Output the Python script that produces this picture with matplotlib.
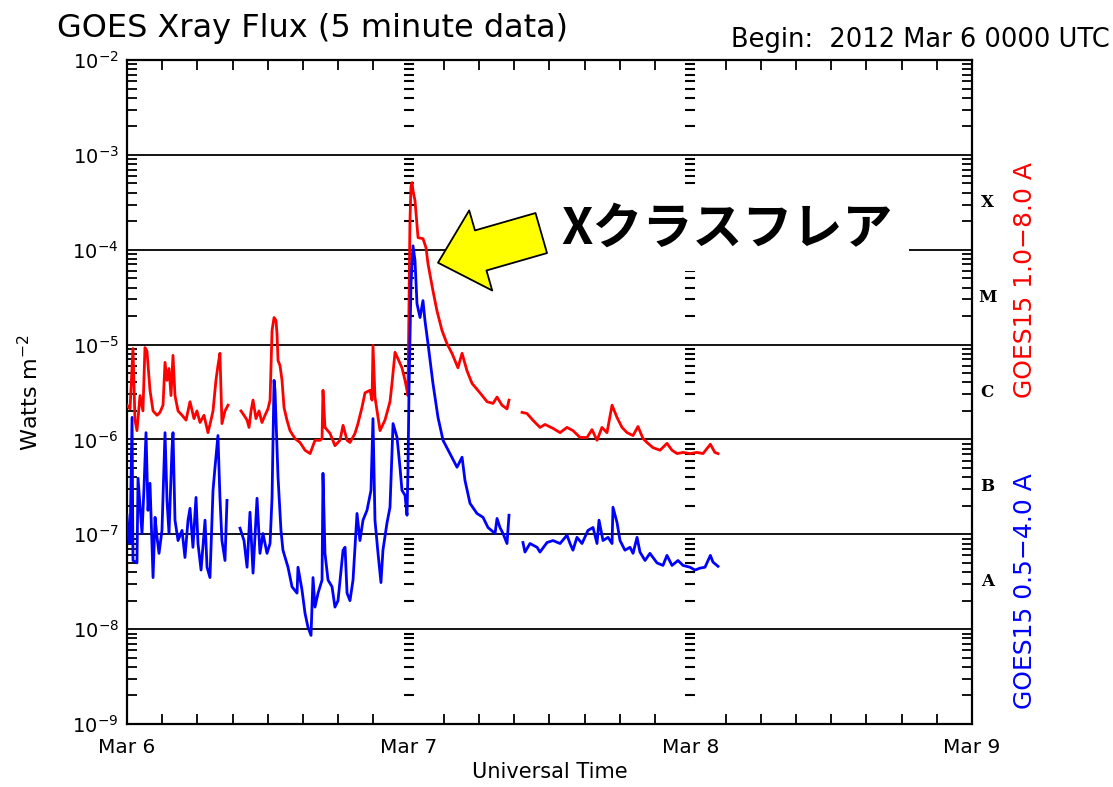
import numpy as np
import matplotlib
matplotlib.use("Agg")
import matplotlib.pyplot as plt
from matplotlib.ticker import FixedLocator, NullFormatter
import matplotlib.transforms as mtransforms

plt.rcParams['font.family'] = ['DejaVu Sans', 'Noto Sans CJK JP']

nan = np.nan

# hours since 2012 Mar 6 00:00 UTC, flux in W m^-2 (nan = data gap)
red_hours = [0.00, 0.26, 0.51, 0.68, 0.85, 1.11, 1.36, 1.53, 1.70, 1.96, 2.22, 2.56, 2.81,
             3.07, 3.24, 3.41, 3.58, 3.75, 3.92, 4.09, 4.35, 4.69, 5.03, 5.37, 5.71, 5.96,
             6.22, 6.56, 6.90, 7.16, 7.33, 7.58, 7.75, 7.92, 8.09, 8.35, 8.61, nan,
             9.71, 9.97, 10.23, 10.40, 10.57, 10.74, 10.99, 11.25, 11.50, 11.76, 12.01,
             12.19, 12.36, 12.53, 12.70, 12.78, 12.87, 13.04, 13.21, 13.38, 13.63, 13.89,
             14.32, 14.74, 15.17, 15.60, 16.02, 16.45, 16.62, 16.70, 16.87, 17.30, 17.72,
             18.15, 18.41, 18.75, 19.00, 19.43, 19.68, 20.02, 20.28, 20.71, 20.88, 20.96,
             21.13, 21.56, 21.98, 22.41, 22.58, 22.84, 23.09, 23.43, 23.69, 23.86, 23.94,
             24.03, 24.11, 24.20, 24.29, 24.37, 24.54, 24.80, 25.22, 25.48, 25.65, 26.07,
             26.41, 26.84, 27.27, 27.69, 28.20, 28.55, 28.97, 29.40, 30.08, 30.68, 31.19,
             31.53, 31.95, 32.38, 32.55, nan,
             33.66, 34.08, 34.60, 35.19, 35.62, 36.30, 36.90, 37.49, 38.00, 38.60, 39.20,
             39.62, 40.05, 40.47, 40.90, 41.33, 41.75, 42.18, 42.61, 43.12, 43.54, 43.97,
             44.39, 44.82, 45.42, 46.01, 46.44, 46.87, 47.38, 47.97, 48.57, 49.08, 49.71,
             50.09, 50.36]
red_flux = [2.3e-6, 2.1e-6, 9.1e-6, 1.6e-6, 1.24e-6, 2.9e-6, 2.0e-6, 9.3e-6, 8.6e-6, 3.3e-6,
            2.0e-6, 1.8e-6, 1.93e-6, 2.3e-6, 6.5e-6, 4.2e-6, 5.6e-6, 2.9e-6, 7.7e-6, 2.9e-6,
            2.0e-6, 1.8e-6, 1.6e-6, 2.5e-6, 1.66e-6, 2.0e-6, 1.51e-6, 1.8e-6, 1.18e-6, 1.6e-6,
            2.0e-6, 4.2e-6, 6.0e-6, 8.1e-6, 1.47e-6, 2.0e-6, 2.3e-6, nan,
            2.0e-6, 1.8e-6, 1.6e-6, 1.34e-6, 2.0e-6, 2.6e-6, 1.66e-6, 2.0e-6, 1.51e-6, 1.8e-6,
            2.1e-6, 2.6e-6, 1.41e-5, 1.93e-5, 1.79e-5, 1.31e-5, 6.8e-6, 6.0e-6, 4.2e-6, 2.17e-6,
            1.6e-6, 1.24e-6, 1.02e-6, 9.3e-7, 7.7e-7, 7.1e-7, 9.8e-7, 9.8e-7, 1.02e-6, 3.3e-6,
            1.34e-6, 1.16e-6, 8.6e-7, 9.8e-7, 1.41e-6, 9.8e-7, 9.3e-7, 1.16e-6, 1.47e-6, 2.17e-6,
            3.1e-6, 3.3e-6, 2.6e-6, 9.8e-6, 2.8e-6, 1.24e-6, 1.6e-6, 2.5e-6, 3.9e-6, 8.3e-6,
            7.1e-6, 5.7e-6, 4.2e-6, 3.3e-6, 2.9e-6,
            2.9e-5, 2.0e-4, 4.7e-4, 5.1e-4, 4.2e-4, 3.3e-4, 1.34e-4, 1.31e-4, 1.05e-4, 7.1e-5,
            3.7e-5, 2.28e-5, 1.41e-5, 1.02e-5, 8.1e-6, 5.7e-6, 8.1e-6, 5.3e-6, 3.9e-6, 3.1e-6,
            2.5e-6, 2.4e-6, 2.8e-6, 2.3e-6, 2.1e-6, 2.6e-6, nan,
            1.93e-6, 1.88e-6, 1.59e-6, 1.34e-6, 1.44e-6, 1.31e-6, 1.18e-6, 1.34e-6, 1.24e-6,
            1.05e-6, 1.05e-6, 1.27e-6, 9.8e-7, 1.34e-6, 1.18e-6, 2.3e-6, 1.71e-6, 1.34e-6,
            1.18e-6, 1.10e-6, 1.37e-6, 1.02e-6, 9.1e-7, 8.2e-7, 7.7e-7, 9.1e-7, 7.7e-7, 7.1e-7,
            7.3e-7, 7.1e-7, 7.3e-7, 7.1e-7, 8.9e-7, 7.3e-7, 7.1e-7]

blue_hours = [0.00, 0.17, 0.26, 0.43, 0.51, 0.85, 0.94, 1.28, 1.45, 1.62, 1.79, 1.96, 2.13,
              2.22, 2.39, 2.56, 2.73, 2.98, 3.24, 3.41, 3.58, 3.83, 3.92, 4.09, 4.35, 4.69,
              4.94, 5.20, 5.37, 5.62, 5.88, 6.05, 6.31, 6.65, 6.82, 7.07, 7.33, 7.50, 7.75,
              7.92, 8.09, 8.35, 8.52, nan,
              9.63, 9.97, 10.23, 10.48, 10.74, 11.08, 11.33, 11.59, 11.93, 12.19, 12.36,
              12.53, 12.61, 12.87, 13.12, 13.29, 13.72, 14.06, 14.49, 14.57, 14.91, 15.17,
              15.42, 15.68, 15.85, 16.02, 16.28, 16.62, 16.70, 16.87, 17.13, 17.47, 17.72,
              17.98, 18.41, 18.58, 18.75, 19.00, 19.26, 19.60, 19.85, 20.11, 20.45, 20.79,
              20.96, 21.13, 21.39, 21.64, 21.81, 22.15, 22.41, 22.67, 23.01, 23.26, 23.43,
              23.69, 23.86, 23.94, 24.03, 24.20, 24.37, 24.54, 24.71, 24.97, 25.22, 25.39,
              25.65, 26.07, 26.50, 26.93, 27.52, 28.12, 28.55, 28.80, 29.23, 29.82, 30.34,
              30.76, 31.36, 31.53, 31.78, 32.04, 32.38, 32.55, nan,
              33.74, 33.91, 34.34, 34.94, 35.19, 35.79, 36.30, 36.90, 37.49, 37.75, 38.00,
              38.34, 38.77, 39.28, 39.71, 40.05, 40.22, 40.56, 40.99, 41.33, 41.41, 41.75,
              42.01, 42.43, 42.86, 43.12, 43.46, 43.71, 44.14, 44.56, 45.16, 45.67, 46.01,
              46.44, 46.95, 47.38, 47.97, 48.40, 48.82, 49.25, 49.71, 49.93, 50.36]
blue_flux = [1.59e-7, 8.6e-8, 8.0e-8, 1.71e-6, 5.3e-8, 5.0e-8, 3.9e-7, 1.02e-7, 3.1e-7,
             1.18e-6, 1.79e-7, 3.45e-7, 8.0e-8, 3.5e-8, 1.51e-7, 9.3e-8, 6.3e-8, 1.10e-7,
             1.18e-6, 2.28e-7, 1.02e-7, 7.7e-7, 1.18e-6, 1.41e-7, 8.6e-8, 1.10e-7, 5.7e-8,
             1.41e-7, 1.88e-7, 7.3e-8, 2.45e-7, 8.0e-8, 4.2e-8, 1.41e-7, 4.5e-8, 3.5e-8,
             2.91e-7, 5.1e-7, 1.10e-6, 2.45e-7, 8.6e-8, 5.3e-8, 2.28e-7, nan,
             1.16e-7, 8.6e-8, 4.5e-8, 1.71e-7, 3.9e-8, 2.40e-7, 6.3e-8, 1.02e-7, 6.3e-8,
             8.0e-8, 2.45e-7, 4.2e-6, 3.3e-6, 4.0e-7, 1.10e-7, 6.8e-8, 4.5e-8, 2.8e-8, 2.4e-8,
             4.5e-8, 2.6e-8, 1.47e-8, 1.05e-8, 8.6e-9, 3.5e-8, 1.71e-8, 2.4e-8, 3.3e-8, 4.4e-7,
             6.3e-8, 3.3e-8, 2.8e-8, 1.71e-8, 2.0e-8, 6.8e-8, 7.3e-8, 2.4e-8, 2.0e-8, 3.3e-8,
             1.66e-7, 8.6e-8, 1.41e-7, 1.79e-7, 2.91e-7, 1.66e-6, 1.41e-7, 6.3e-8, 3.1e-8,
             6.8e-8, 1.31e-7, 1.93e-7, 1.47e-6, 1.05e-6, 5.1e-7, 2.91e-7, 2.58e-7, 1.59e-7,
             4.7e-7, 3.3e-6, 4.4e-5, 1.10e-4, 7.7e-5, 2.7e-5, 1.93e-5, 2.91e-5, 1.79e-5,
             1.02e-5, 3.9e-6, 1.71e-6, 9.8e-7, 7.1e-7, 5.1e-7, 6.5e-7, 3.7e-7, 2.12e-7,
             1.66e-7, 1.51e-7, 1.18e-7, 1.02e-7, 1.47e-7, 1.18e-7, 1.02e-7, 8.0e-8, 1.59e-7, nan,
             8.2e-8, 6.5e-8, 8.0e-8, 7.3e-8, 6.5e-8, 8.2e-8, 8.6e-8, 8.0e-8, 9.8e-8, 8.0e-8,
             6.8e-8, 9.3e-8, 8.0e-8, 1.10e-7, 1.18e-7, 8.0e-8, 1.41e-7, 8.6e-8, 9.3e-8, 8.0e-8,
             1.93e-7, 1.34e-7, 8.6e-8, 6.8e-8, 7.3e-8, 6.3e-8, 9.3e-8, 6.5e-8, 5.3e-8, 6.3e-8,
             5.0e-8, 4.7e-8, 6.0e-8, 4.7e-8, 5.3e-8, 4.7e-8, 4.5e-8, 4.2e-8, 4.4e-8, 4.5e-8,
             6.0e-8, 5.1e-8, 4.6e-8]

day_labels = ['Mar 6', 'Mar 7', 'Mar 8', 'Mar 9']
class_letters = ['A', 'B', 'C', 'M', 'X']
class_levels = [10**-7.5, 10**-6.5, 10**-5.5, 10**-4.5, 10**-3.5]

fig = plt.figure(figsize=(11.13, 7.87), dpi=100)
ax = fig.add_axes([0.1141, 0.080, 0.7592, 0.8437])

ax.plot(red_hours, red_flux, color='#ff0000', lw=2.0, zorder=3)
ax.plot(blue_hours, blue_flux, color='#0000ff', lw=2.0, zorder=3)

ax.set_yscale('log')
ax.set_ylim(1e-9, 1e-2)
ax.set_xlim(0, 72)

# decade lines
for k in range(-8, -2):
    ax.axhline(10.0**k, color='black', lw=1.3, zorder=1)

# minor tick dashes at the day boundaries
minor_vals = [m * 10.0**k for k in range(-9, -2) for m in range(2, 10)]
for d in [24, 48]:
    ax.plot([d] * len(minor_vals), minor_vals, ls='none', marker='_',
            ms=7, mew=1.5, color='black', zorder=2)

ax.set_xticks([0, 24, 48, 72])
ax.set_xticklabels(day_labels, fontsize=14.5)
ax.xaxis.set_minor_locator(FixedLocator(np.arange(3, 72, 3)))
ax.set_yticks([10.0**k for k in range(-9, -1)])
ax.set_yticklabels([r'$10^{%d}$' % k for k in range(-9, -1)], fontsize=14)
ax.yaxis.set_minor_locator(FixedLocator(minor_vals))
ax.yaxis.set_minor_formatter(NullFormatter())
ax.tick_params(which='both', direction='in', top=True, right=True, width=1.3)
ax.tick_params(which='major', length=0, pad=10)
ax.tick_params(axis='y', which='major', pad=6)
ax.tick_params(which='minor', length=7)
for s in ax.spines.values():
    s.set_linewidth(1.6)

ax.set_xlabel('Universal Time', fontsize=15, labelpad=4)
ax.set_ylabel(r'Watts m$^{-2}$', fontsize=16, labelpad=22)

trans = mtransforms.blended_transform_factory(ax.transAxes, ax.transData)
for lab, lev in zip(class_letters, class_levels):
    ax.text(1.018, lev, lab, transform=trans, ha='center', va='center',
            fontsize=12, fontweight='bold', family='DejaVu Serif')

fig.text(0.921, 0.644, 'GOES15 1.0\u22128.0 A', rotation=90, color='#ff0000',
         ha='center', va='center', fontsize=18)
fig.text(0.921, 0.249, 'GOES15 0.5\u22124.0 A', rotation=90, color='#0000ff',
         ha='center', va='center', fontsize=18)

fig.text(0.051, 0.964, 'GOES Xray Flux (5 minute data)', fontsize=23, ha='left', va='center')
fig.text(0.997, 0.949, 'Begin:  2012 Mar 6 0000 UTC', fontsize=18.5, ha='right', va='center')

# callout
ax.text(51.1, 1.66e-4, 'Xクラスフレア', fontsize=36, fontweight='bold',
        family=['Noto Sans CJK JP', 'DejaVu Sans'], ha='center', va='center',
        bbox=dict(facecolor='white', edgecolor='none', pad=12), zorder=4)
ax.annotate('', xy=(26.5, 7.3e-5), xytext=(35.3, 1.5e-4),
            arrowprops=dict(arrowstyle='simple,head_length=1.6,head_width=3.0,tail_width=1.5',
                            mutation_scale=20, fc='#ffff00', ec='black', lw=1.3,
                            shrinkA=0, shrinkB=0), zorder=5)

fig.savefig('out.png', dpi=100)
